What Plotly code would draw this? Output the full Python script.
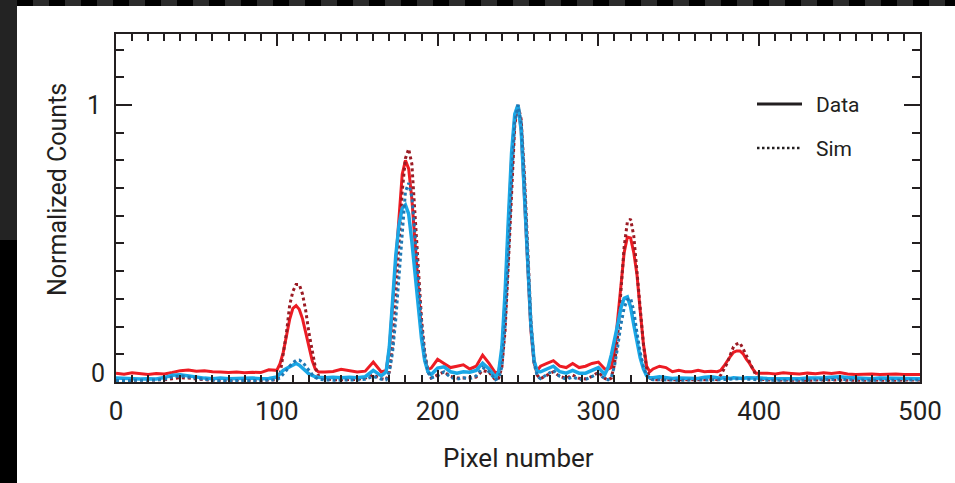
import plotly.graph_objects as go

# ---- data -----------------------------------------------------------------
pixel = [
    0, 5, 10, 15, 20, 25, 30, 35, 40, 45, 50, 55, 60, 65, 70, 75, 80, 85, 90, 95,
    100, 102, 104, 106, 108, 110, 112, 114, 116, 118, 120, 122, 124, 126,
    130, 135, 140, 145, 150, 155, 160, 165,
    168, 170, 172, 174, 176, 178, 180, 182, 184, 186, 188, 190, 192, 194, 196,
    200, 204, 208, 212, 216, 220, 224, 228, 232,
    236, 238, 240, 242, 244, 246, 248, 250, 252, 254, 256, 258, 260, 262, 264,
    268, 272, 276, 280, 284, 288, 292, 296, 300, 304,
    306, 308, 310, 312, 314, 316, 318, 320, 322, 324, 326, 328, 330, 332, 334,
    338, 342, 346, 350, 354, 358, 362, 366, 370,
    374, 376, 378, 380, 382, 384, 386, 388, 390, 392, 394, 396, 398, 400,
    405, 410, 415, 420, 425, 430, 435, 440, 445, 450, 455, 460, 465, 470, 475, 480, 485, 490, 495, 500,
]

red_data = [
    .032, .028, .033, .030, .027, .031, .029, .034, .041, .043, .039, .041, .037, .036, .034, .036, .033, .035, .034, .044,
    .042, .066, .107, .166, .226, .266, .276, .262, .228, .178, .128, .077, .046, .036,
    .036, .038, .046, .041, .036, .039, .072, .036,
    .042, .120, .280, .460, .620, .750, .800, .770, .660, .510, .340, .180, .080, .045, .050,
    .082, .067, .052, .057, .062, .047, .057, .097, .067,
    .032, .037, .107, .307, .557, .807, .957, 1.0, .907, .687, .427, .187, .067, .042, .057,
    .067, .077, .057, .052, .067, .052, .057, .067, .072, .047,
    .047, .052, .107, .227, .367, .467, .523, .520, .467, .387, .257, .137, .057, .037, .047,
    .057, .052, .037, .042, .037, .037, .042, .037, .039,
    .037, .042, .057, .077, .092, .107, .112, .112, .102, .082, .067, .047, .032, .032,
    .032, .029, .033, .031, .029, .032, .030, .033, .031, .034, .029, .027, .028, .029, .027, .028, .029, .027, .028, .027,
]

red_sim = [
    .006, .006, .007, .006, .006, .007, .008, .012, .016, .014, .010, .008, .007, .006, .006, .007, .006, .006, .006, .007,
    .008, .027, .097, .177, .277, .327, .352, .352, .317, .257, .177, .107, .052, .022,
    .012, .008, .009, .008, .009, .014, .025, .012,
    .008, .037, .127, .307, .507, .687, .807, .841, .787, .607, .407, .227, .107, .037, .014,
    .027, .037, .020, .014, .014, .016, .018, .042, .035,
    .008, .014, .055, .187, .427, .707, .927, 1.0, .947, .747, .467, .227, .077, .024, .012,
    .025, .037, .020, .013, .025, .013, .011, .020, .035, .013,
    .008, .014, .064, .167, .327, .487, .577, .588, .527, .387, .247, .137, .047, .014, .008,
    .008, .007, .007, .008, .007, .008, .007, .008, .010,
    .008, .024, .045, .067, .097, .127, .137, .141, .120, .095, .070, .045, .024, .010,
    .007, .006, .007, .006, .007, .006, .007, .006, .007, .007, .006, .007, .006, .007, .006, .007, .006, .007, .006, .007,
]

blue_data = [
    .014, .012, .013, .011, .012, .011, .016, .024, .026, .021, .016, .014, .012, .014, .012, .013, .012, .014, .012, .013,
    .018, .032, .042, .049, .055, .062, .067, .061, .052, .040, .029, .023, .019, .017,
    .015, .017, .015, .017, .015, .019, .042, .022,
    .037, .127, .287, .457, .567, .627, .639, .607, .507, .387, .267, .157, .077, .037, .027,
    .050, .055, .037, .032, .037, .035, .042, .068, .047,
    .017, .037, .127, .327, .587, .827, .967, 1.0, .907, .687, .427, .207, .077, .037, .037,
    .047, .057, .037, .032, .042, .032, .032, .042, .052, .027,
    .052, .097, .147, .207, .267, .302, .307, .272, .207, .147, .087, .047, .022, .015, .015,
    .019, .015, .013, .014, .013, .015, .013, .017, .019,
    .015, .013, .016, .014, .013, .015, .014, .016, .013, .015, .014, .013, .015, .014,
    .013, .012, .014, .013, .012, .014, .013, .015, .017, .019, .016, .014, .013, .012, .014, .013, .012, .014, .013, .012,
]

blue_sim = [
    .005, .005, .006, .005, .006, .007, .010, .018, .022, .018, .012, .008, .006, .005, .006, .005, .006, .005, .006, .006,
    .008, .015, .027, .042, .057, .070, .078, .079, .072, .057, .041, .027, .016, .010,
    .008, .006, .007, .006, .007, .010, .020, .010,
    .008, .037, .107, .227, .387, .557, .687, .718, .667, .527, .367, .207, .097, .037, .015,
    .022, .037, .017, .010, .015, .012, .022, .052, .037,
    .008, .014, .055, .207, .447, .727, .937, 1.0, .937, .727, .447, .207, .067, .020, .012,
    .027, .042, .020, .010, .018, .010, .009, .020, .030, .012,
    .008, .017, .057, .127, .207, .267, .297, .303, .257, .177, .107, .057, .025, .012, .008,
    .008, .007, .006, .007, .006, .007, .006, .007, .008,
    .007, .008, .009, .010, .011, .012, .012, .012, .011, .010, .009, .008, .007, .007,
    .006, .006, .007, .006, .006, .007, .006, .007, .009, .010, .008, .007, .006, .006, .007, .006, .006, .007, .006, .007,
]

x_ticks = [0, 100, 200, 300, 400, 500]
y_ticks = [0, 1]
y_tick_text = ["", "1"]
legend_labels = ["Data", "Sim"]

for series in (red_data, red_sim, blue_data, blue_sim):
    assert len(series) == len(pixel)

# ---- styling --------------------------------------------------------------
W, H = 955, 483
L, R, T, B = 116, 920, 34, 382          # plot box in page pixels
INK = "#231f20"
FONT = "Roboto, Liberation Sans Narrow, DejaVu Sans Condensed, sans-serif"
WEIGHT = 400

RED, RED_DARK = "#ed1c24", "#9b1b24"
BLUE, BLUE_DARK = "#1aa7e6", "#1f78b4"


def px_x(p):
    return (p - L) / (R - L)


def px_y(p):
    return (B - p) / (B - T)


fig = go.Figure()
fig.add_trace(go.Scatter(x=pixel, y=red_data, mode="lines",
                         line=dict(color=RED, width=3), showlegend=False))
fig.add_trace(go.Scatter(x=pixel, y=red_sim, mode="lines",
                         line=dict(color=RED_DARK, width=3, dash="dot"), showlegend=False))
fig.add_trace(go.Scatter(x=pixel, y=blue_data, mode="lines",
                         line=dict(color=BLUE, width=3.5), showlegend=False))
fig.add_trace(go.Scatter(x=pixel, y=blue_sim, mode="lines",
                         line=dict(color=BLUE_DARK, width=3, dash="dot"), showlegend=False))

# ---- frame strips around the page -----------------------------------------
shapes = [
    dict(type="rect", xref="paper", yref="paper", x0=px_x(0), x1=px_x(17),
         y0=px_y(H), y1=px_y(0), fillcolor="#000000", line_width=0),
    dict(type="rect", xref="paper", yref="paper", x0=px_x(0), x1=px_x(17),
         y0=px_y(240), y1=px_y(0), fillcolor="#232323", line_width=0),
    dict(type="rect", xref="paper", yref="paper", x0=px_x(17), x1=px_x(W),
         y0=px_y(6), y1=px_y(0), fillcolor="#000000", line_width=0),
]
start = 33
while start < W:
    shapes.append(dict(type="rect", xref="paper", yref="paper",
                       x0=px_x(start), x1=px_x(min(start + 16, W)),
                       y0=px_y(6), y1=px_y(0), fillcolor="#2b2b2b", line_width=0))
    start += 32

# ---- legend samples -------------------------------------------------------
legend_rows = [(104, "solid", 3), (148, "2.5px,2.5px", 2.5)]
annotations = []
for (ypx, dash, lw), label in zip(legend_rows, legend_labels):
    shapes.append(dict(type="line", xref="paper", yref="paper",
                       x0=px_x(757), x1=px_x(802), y0=px_y(ypx), y1=px_y(ypx),
                       line=dict(color=INK, width=lw, dash=dash)))
    annotations.append(dict(xref="paper", yref="paper", x=px_x(814), y=px_y(ypx + 1),
                            xanchor="left", yanchor="middle", showarrow=False,
                            text=label, font=dict(family=FONT, size=21, color=INK, weight=WEIGHT)))

annotations += [
    dict(xref="paper", yref="y", x=px_x(107), y=0, yshift=9, xanchor="right",
         yanchor="middle", showarrow=False, text="0",
         font=dict(family=FONT, size=25, color=INK, weight=WEIGHT)),
    dict(xref="paper", yref="paper", x=0.5, y=px_y(458), xanchor="center",
         yanchor="middle", showarrow=False, text="Pixel number",
         font=dict(family=FONT, size=26, color=INK, weight=WEIGHT)),
    dict(xref="paper", yref="paper", x=px_x(57), y=px_y(190), xanchor="center",
         yanchor="middle", showarrow=False, text="Normalized Counts", textangle=-90,
         font=dict(family=FONT, size=25, color=INK, weight=WEIGHT)),
]

fig.update_layout(
    width=W, height=H, autosize=False,
    margin=dict(l=L, r=W - R, t=T, b=H - B, pad=0),
    paper_bgcolor="white", plot_bgcolor="white",
    showlegend=False,
    shapes=shapes, annotations=annotations,
    xaxis=dict(range=[0, 500], tickmode="array", tickvals=x_ticks,
               showline=True, linewidth=2, linecolor=INK, mirror="ticks",
               ticks="inside", ticklen=12, tickwidth=2, tickcolor=INK,
               minor=dict(ticks="inside", tickmode="linear", tick0=0, dtick=10,
                          ticklen=7, tickwidth=1.5, tickcolor=INK),
               showgrid=False, zeroline=False, ticklabelstandoff=5,
               tickfont=dict(family=FONT, size=26, color=INK, weight=WEIGHT)),
    yaxis=dict(range=[0, 1.256], tickmode="array", tickvals=y_ticks, ticktext=y_tick_text,
               showline=True, linewidth=2, linecolor=INK, mirror="ticks",
               ticks="inside", ticklen=16, tickwidth=2, tickcolor=INK,
               minor=dict(ticks="inside", tickmode="linear", tick0=0, dtick=0.1,
                          ticklen=8, tickwidth=2, tickcolor=INK),
               showgrid=False, zeroline=False, ticklabelstandoff=8,
               tickfont=dict(family=FONT, size=25, color=INK, weight=WEIGHT)),
)

fig.write_html("out.html")
